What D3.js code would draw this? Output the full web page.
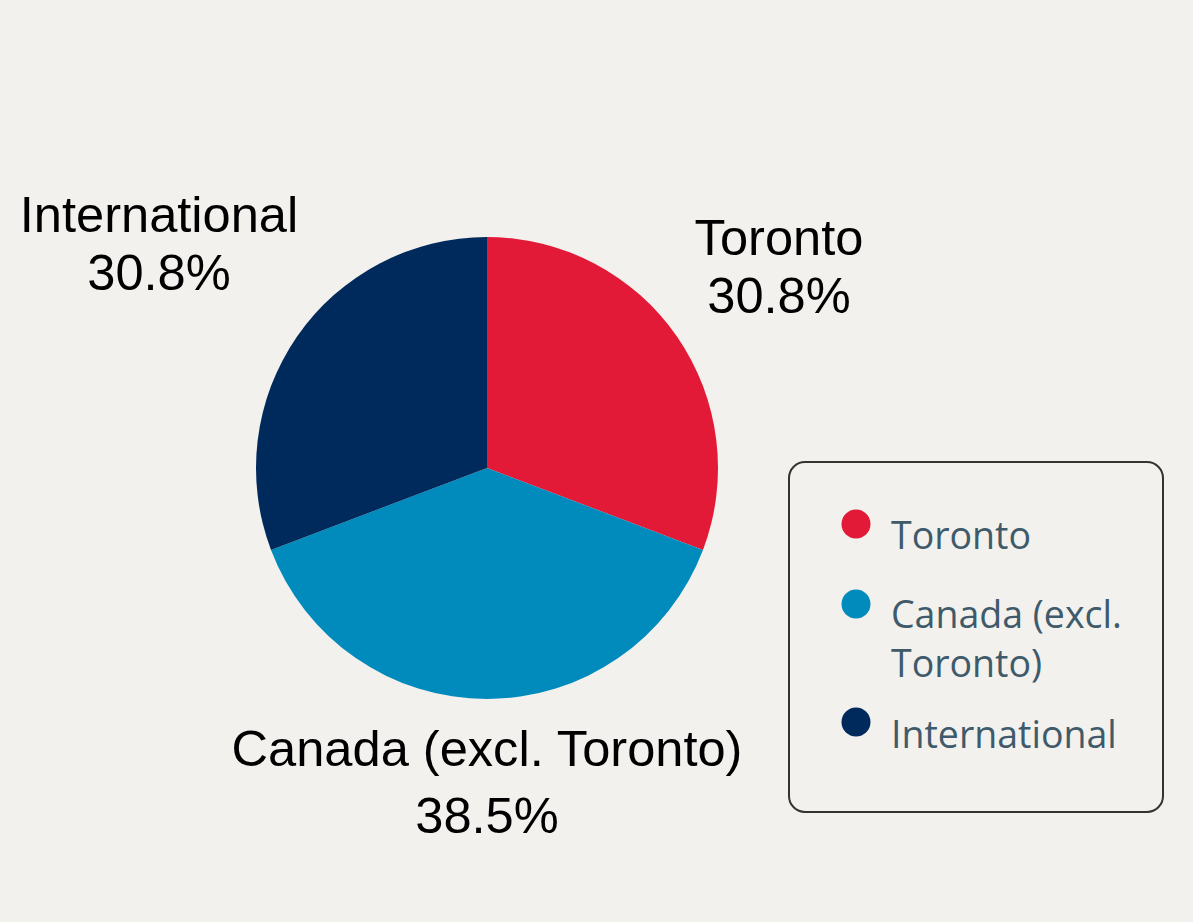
<!DOCTYPE html>
<html><head><meta charset="utf-8">
<script src="https://cdn.jsdelivr.net/npm/d3@7"></script>
<style>
html,body{margin:0;padding:0;background:#f2f1ed;}
svg{display:block;}
</style></head>
<body>
<svg id="chart" width="1193" height="922"></svg>
<script>
const categories = ["Toronto", "Canada (excl. Toronto)", "International"];
const values = [30.8, 38.5, 30.8];
const colors = ["#e21a37", "#008bbc", "#002a5c"];
const legendLabels = [["Toronto"], ["Canada (excl.", "Toronto)"], ["International"]];

const svg = d3.select("#chart");
const cx = 487, cy = 468, r = 231;

const data = categories.map((c, i) => ({name: c, value: values[i], color: colors[i]}));
const pie = d3.pie().value(d => d.value).sort(null);
const arc = d3.arc().innerRadius(0).outerRadius(r);
const arcs = pie(data);

const g = svg.append("g").attr("transform", `translate(${cx},${cy})`);
g.selectAll("path").data(arcs).enter().append("path")
  .attr("d", arc).attr("fill", d => d.data.color);

// outer labels
const labelPos = [
  {x: 779, y1: 255, y2: 313},
  {x: 487, y1: 766, y2: 833},
  {x: 159, y1: 232, y2: 290}
];
const lab = svg.append("g").attr("font-family", "'Liberation Sans', Arial, sans-serif")
  .attr("font-size", 50.6).attr("fill", "#000").attr("text-anchor", "middle");
arcs.forEach((a, i) => {
  const p = labelPos[i];
  lab.append("text").attr("x", p.x).attr("y", p.y1).text(a.data.name);
  lab.append("text").attr("x", p.x).attr("y", p.y2).text(d3.format(".1f")(a.data.value) + "%");
});

// legend
const leg = svg.append("g");
leg.append("rect").attr("x", 789).attr("y", 462).attr("width", 374).attr("height", 350)
  .attr("rx", 16).attr("fill", "none").attr("stroke", "#333").attr("stroke-width", 2);
const legItems = [
  {dotY: 524, lines: [549]},
  {dotY: 604, lines: [628, 677]},
  {dotY: 722, lines: [748]}
];
legItems.forEach((it, i) => {
  leg.append("circle").attr("cx", 856).attr("cy", it.dotY).attr("r", 14.5).attr("fill", colors[i]);
  legendLabels[i].forEach((t, j) => {
    leg.append("text").attr("x", 891).attr("y", it.lines[j])
      .attr("font-family", "'Open Sans', sans-serif").attr("font-size", 37.5)
      .attr("fill", "#3e5a6b").text(t);
  });
});
</script>
</body></html>
